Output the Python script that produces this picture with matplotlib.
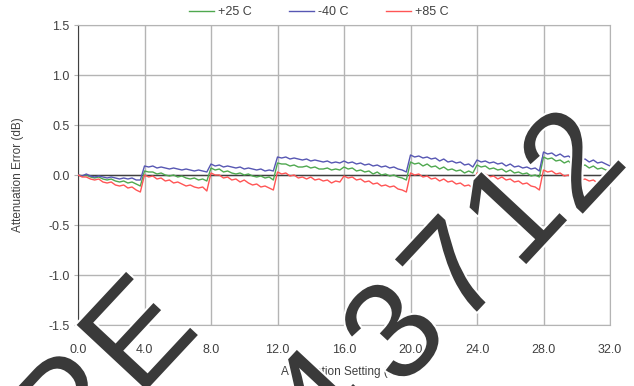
import matplotlib.pyplot as plt
import matplotlib.patheffects as pe
import numpy as np

plt.rcParams['font.family'] = ['Liberation Sans', 'DejaVu Sans']

# attenuation setting, 0.25 dB steps from 0 to 32 dB
step = 0.25
setting = np.arange(0, 32 + step / 2, step)

# attenuation error (dB), one 4 dB block per row
err_25 = [
    0.00, -0.01, 0.00, -0.02, -0.03, -0.02, -0.04, -0.05, -0.04, -0.06, -0.07, -0.06, -0.08, -0.07, -0.09, -0.11,
    0.04, 0.03, 0.03, 0.01, 0.02, 0.00, -0.01, 0.00, -0.02, -0.01, -0.03, -0.04, -0.03, -0.05, -0.04, -0.06,
    0.07, 0.05, 0.06, 0.03, 0.04, 0.02, 0.01, 0.02, 0.00, 0.01, -0.01, -0.02, -0.01, -0.03, -0.02, -0.05,
    0.12, 0.11, 0.11, 0.09, 0.10, 0.08, 0.08, 0.09, 0.07, 0.08, 0.06, 0.06, 0.07, 0.05, 0.06, 0.05,
    0.08, 0.06, 0.07, 0.04, 0.05, 0.03, 0.04, 0.01, 0.03, 0.00, 0.01, -0.01, 0.00, -0.02, -0.03, -0.05,
    0.13, 0.11, 0.12, 0.09, 0.11, 0.08, 0.09, 0.06, 0.08, 0.05, 0.06, 0.04, 0.05, 0.02, 0.04, 0.02,
    0.10, 0.08, 0.09, 0.06, 0.07, 0.05, 0.06, 0.03, 0.05, 0.02, 0.03, 0.01, 0.02, -0.01, 0.00, -0.02,
    0.18, 0.16, 0.17, 0.14, 0.15, 0.12, 0.14, 0.10, 0.12, 0.09, 0.10, 0.07, 0.09, 0.06, 0.07, 0.05, 0.04,
]
err_m40 = [
    0.00, -0.01, 0.01, -0.01, -0.02, -0.01, -0.02, -0.03, -0.02, -0.03, -0.04, -0.03, -0.04, -0.03, -0.05, -0.05,
    0.09, 0.08, 0.09, 0.07, 0.08, 0.07, 0.06, 0.07, 0.06, 0.05, 0.06, 0.05, 0.04, 0.05, 0.04, 0.03,
    0.11, 0.09, 0.10, 0.08, 0.09, 0.08, 0.07, 0.08, 0.06, 0.07, 0.06, 0.05, 0.06, 0.04, 0.05, 0.04,
    0.18, 0.17, 0.18, 0.16, 0.17, 0.16, 0.15, 0.16, 0.14, 0.15, 0.14, 0.13, 0.14, 0.12, 0.13, 0.12,
    0.14, 0.12, 0.13, 0.11, 0.12, 0.10, 0.11, 0.09, 0.10, 0.08, 0.09, 0.07, 0.08, 0.06, 0.05, 0.03,
    0.20, 0.18, 0.19, 0.17, 0.18, 0.16, 0.17, 0.14, 0.16, 0.13, 0.14, 0.12, 0.13, 0.10, 0.11, 0.08,
    0.15, 0.13, 0.14, 0.12, 0.13, 0.11, 0.12, 0.09, 0.11, 0.08, 0.09, 0.07, 0.08, 0.06, 0.07, 0.04,
    0.23, 0.21, 0.22, 0.19, 0.21, 0.18, 0.19, 0.16, 0.18, 0.15, 0.16, 0.13, 0.15, 0.12, 0.13, 0.11, 0.09,
]
err_85 = [
    0.00, -0.02, -0.02, -0.04, -0.05, -0.04, -0.07, -0.08, -0.07, -0.10, -0.11, -0.10, -0.13, -0.12, -0.15, -0.17,
    0.00, -0.02, -0.01, -0.04, -0.03, -0.06, -0.05, -0.08, -0.07, -0.09, -0.11, -0.10, -0.12, -0.13, -0.12, -0.16,
    0.02, 0.00, 0.00, -0.03, -0.02, -0.05, -0.04, -0.07, -0.05, -0.08, -0.10, -0.09, -0.12, -0.11, -0.13, -0.15,
    0.03, 0.01, 0.02, -0.01, 0.00, -0.03, -0.02, -0.04, -0.02, -0.05, -0.04, -0.06, -0.05, -0.08, -0.06, -0.07,
    -0.01, -0.03, -0.02, -0.05, -0.04, -0.07, -0.06, -0.09, -0.08, -0.11, -0.10, -0.12, -0.11, -0.14, -0.15, -0.17,
    0.02, 0.00, 0.01, -0.02, -0.01, -0.04, -0.03, -0.06, -0.04, -0.07, -0.06, -0.09, -0.08, -0.11, -0.10, -0.13,
    0.02, 0.00, 0.01, -0.02, -0.01, -0.04, -0.02, -0.05, -0.04, -0.07, -0.06, -0.09, -0.08, -0.11, -0.12, -0.15,
    0.05, 0.03, 0.04, 0.01, 0.02, -0.01, 0.00, -0.03, -0.02, -0.05, -0.04, -0.06, -0.05, -0.08, -0.07, -0.09, -0.10,
]

series_labels = ['+25 C', '-40 C', '+85 C']
series_colors = ['#4fa84f', '#5757b3', '#ff5555']

x_ticks = [0, 4, 8, 12, 16, 20, 24, 28, 32]
y_ticks = [-1.5, -1.0, -0.5, 0.0, 0.5, 1.0, 1.5]

W, H = 634, 386
fig = plt.figure(figsize=(W / 100, H / 100), dpi=100)
fig.patch.set_facecolor('white')
ax = fig.add_axes([78 / W, 61 / H, 532 / W, 300 / H])

text_col = '#404040'
grid_col = '#b4b4b4'

for vals, lab, col in zip([err_25, err_m40, err_85], series_labels, series_colors):
    ax.plot(setting, vals, color=col, lw=1.0, label=lab, zorder=3)

ax.axhline(0, color='#404040', lw=1.0, zorder=2)

ax.set_xlim(0, 32)
ax.set_ylim(-1.5, 1.5)
ax.set_xticks(x_ticks)
ax.set_yticks(y_ticks)
ax.set_xticklabels([f'{v:.1f}' for v in x_ticks])
ax.set_yticklabels([f'{v:.1f}' for v in y_ticks])
ax.grid(True, color=grid_col, lw=1.0, zorder=1)
ax.set_axisbelow(True)
for s in ['top', 'right', 'bottom']:
    ax.spines[s].set_color(grid_col)
ax.spines['left'].set_color('#404040')
ax.tick_params(axis='y', length=3, color=grid_col, labelsize=9, labelcolor=text_col, pad=3)
ax.tick_params(axis='x', length=0, labelsize=9, labelcolor=text_col, pad=14)

fig.text(18 / W, 1 - 175 / H, 'Attenuation Error (dB)', rotation=90, ha='center', va='center',
         fontsize=8.5, color=text_col)
fig.text(344 / W, 1 - 372 / H, 'Attenuation Setting (dB)', ha='center', va='center',
         fontsize=8.5, color=text_col)

fig.legend(loc='center', bbox_to_anchor=(319 / W, 1 - 12 / H), ncol=3, frameon=False,
           fontsize=9, handlelength=2.0, handletextpad=0.3, columnspacing=3.0,
           labelcolor=text_col)

# diagonal watermark, placed character by character
wm_chars = ['P', 'E', '4', '3', '7', '1', '2']
wm_centres = [(74, 414), (144, 340), (326, 406), (400, 338), (460, 277), (519, 219), (578, 166)]
for ch, (px, py) in zip(wm_chars, wm_centres):
    fig.text(px / W, 1 - py / H, ch, rotation=47, rotation_mode='anchor', ha='center', va='center',
             fontsize=100, color='#3a3a3a', zorder=10,
             path_effects=[pe.withStroke(linewidth=3, foreground='white')])

fig.savefig('out.png', dpi=100, facecolor='white')
